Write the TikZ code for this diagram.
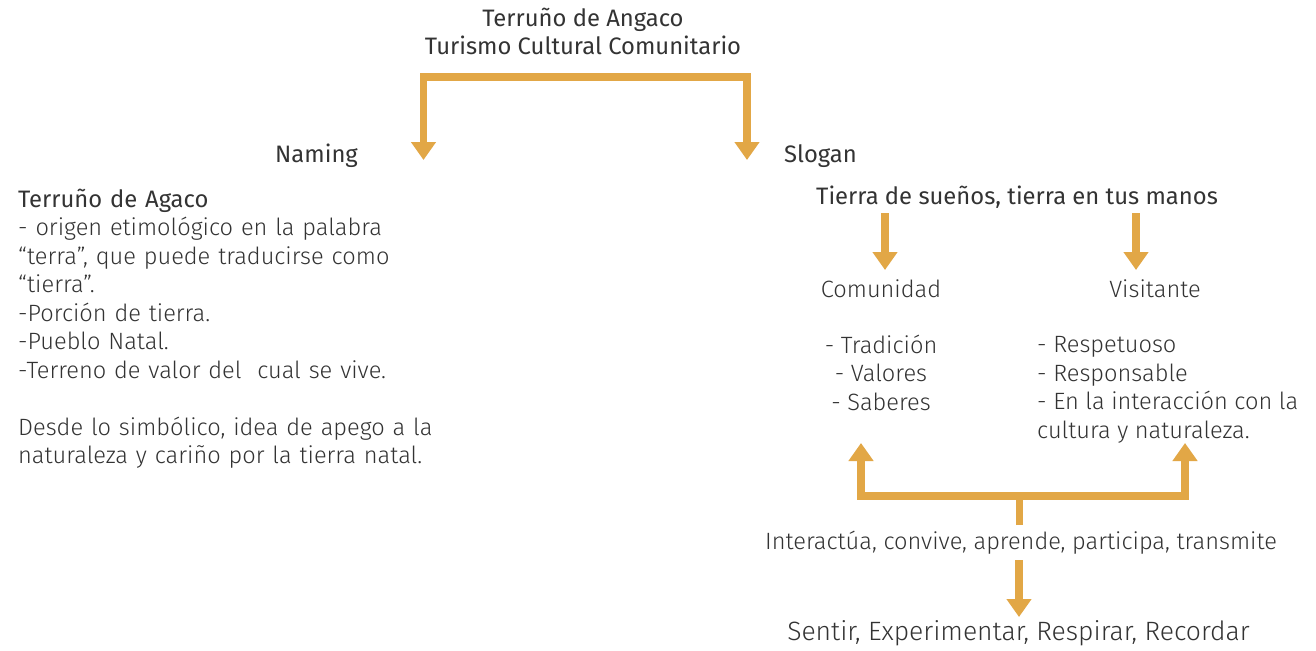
\documentclass[tikz,border=0pt]{standalone}
\usepackage{fontspec}
\setmainfont{Fira Sans}
\newfontfamily\ltf{Fira Sans Light}
\usetikzlibrary{arrows.meta}
\definecolor{orng}{RGB}{226,167,70}
\definecolor{txt}{RGB}{51,51,51}
\begin{document}
\begin{tikzpicture}[x=1pt,y=-1pt,
  conn/.style={draw=orng, line width=7.5pt, line join=miter},
  arr/.style={conn, -{Triangle[width=24pt,length=18pt]}},
  darr/.style={conn, {Triangle[width=24pt,length=18pt]}-{Triangle[width=24pt,length=18pt]}},
  lbl/.style={inner sep=0pt, text=txt, font=\fontsize{23.8}{28.5}\selectfont},
  lite/.style={lbl, font=\ltf\fontsize{23.6}{28.5}\selectfont}
]
\useasboundingbox[fill=white] (0,0) rectangle (1316,650);

% texts (multi-line nodes without text width: base = last line)
\node[lbl, anchor=base, align=center] (title) at (583,55) {Terruño de Angaco\\Turismo Cultural Comunitario};
\node[lbl, anchor=base west] (naming) at (275,162) {Naming};
\node[lbl, anchor=base west] (slogan) at (784,162) {Slogan};
\node[lite, anchor=base west, align=left, text width=460pt] (left) at (18,207)
  {{\rmfamily\fontsize{23.8}{28.5}\selectfont Terruño de Agaco}\\
   - origen etimológico en la palabra\\
   “terra”, que puede traducirse como\\
   “tierra”.\\
   -Porción de tierra.\\
   -Pueblo Natal.\\
   -Terreno de valor del\ \ cual se vive.\\[28.5pt]
   Desde lo simbólico, idea de apego a la\\
   naturaleza y cariño por la tierra natal.};
\node[lbl, anchor=base west] (tierra) at (816,204) {Tierra de sueños, tierra en tus manos};
\node[lite, anchor=base] (comu) at (881,297) {Comunidad};
\node[lite, anchor=base] (visi) at (1155,297) {Visitante};
\node[lite, anchor=base, align=center] (clist) at (881,410) {- Tradición\\- Valores\\- Saberes};
\node[lite, anchor=base west, align=left] (vlist) at (1037,438) {- Respetuoso\\- Responsable\\- En la interacción con la\\cultura y naturaleza.};
\node[lite, anchor=base] (inter) at (1021,549) {Interactúa, convive, aprende, participa, transmite};
\node[lite, anchor=base, font=\ltf\fontsize{26.5}{30}\selectfont] (sentir) at (1018.5,640) {Sentir, Experimentar, Respirar, Recordar};

% connector coordinates
\coordinate (tl) at (423.5,160);
\coordinate (tlc) at (423.5,77);
\coordinate (trc) at (747,77);
\coordinate (tr) at (747,160);
\coordinate (s1a) at (885,213);
\coordinate (s1b) at (885,270);
\coordinate (s2a) at (1136,213);
\coordinate (s2b) at (1136,270);
\coordinate (bl) at (861,443);
\coordinate (blc) at (861,496);
\coordinate (brc) at (1185,496);
\coordinate (br) at (1185,443);
\coordinate (stb) at (1019.5,525);
\coordinate (stt) at (1019.5,496);
\coordinate (da) at (1019,560);
\coordinate (db) at (1019,617);

% connectors
\draw[darr] (tl) -- (tlc) -- (trc) -- (tr);
\draw[arr] (s1a) -- (s1b);
\draw[arr] (s2a) -- (s2b);
\draw[darr] (bl) -- (blc) -- (brc) -- (br);
\draw[conn] (stb) -- (stt);
\draw[arr] (da) -- (db);
\end{tikzpicture}
\end{document}
